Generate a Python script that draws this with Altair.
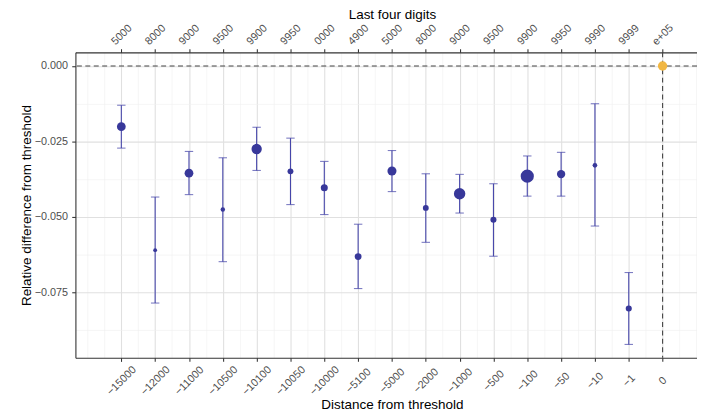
import altair as alt
import pandas as pd

distance_labels = ["−15000", "−12000", "−11000", "−10500", "−10100", "−10050", "−10000",
                   "−5100", "−5000", "−2000", "−1000", "−500", "−100", "−50", "−10", "−1", "0"]
last_digits = ["5000", "8000", "9000", "9500", "9900", "9950", "0000", "4900", "5000",
               "8000", "9000", "9500", "9900", "9950", "9990", "9999", "e+05"]
estimate = [-0.0201, -0.0610, -0.0355, -0.0475, -0.0275, -0.0349, -0.0403, -0.0631, -0.0348,
            -0.0470, -0.0423, -0.0509, -0.0365, -0.0358, -0.0329, -0.0803, 0.0]
ci_low = [-0.0272, -0.0785, -0.0426, -0.0648, -0.0346, -0.0459, -0.0492, -0.0737, -0.0416,
          -0.0584, -0.0487, -0.0630, -0.0431, -0.0431, -0.0530, -0.0922, None]
ci_high = [-0.0130, -0.0434, -0.0283, -0.0304, -0.0203, -0.0239, -0.0316, -0.0524, -0.0280,
           -0.0357, -0.0359, -0.0390, -0.0298, -0.0286, -0.0125, -0.0684, None]
weight = [78, 15, 78, 20, 108, 35, 50, 47, 83, 35, 133, 38, 177, 71, 22, 38, 90]

n = len(distance_labels)
df = pd.DataFrame({
    "pos": list(range(1, n + 1)),
    "distance": distance_labels,
    "digits": last_digits,
    "estimate": estimate,
    "ci_low": ci_low,
    "ci_high": ci_high,
    "weight": weight,
    "group": ["threshold" if d == "0" else "other" for d in distance_labels],
})

FONT = "Liberation Sans"
W, H = 627, 308
EXP_LEFT, EXP_RIGHT = 1.357, 1.017   # right side of the panel is cut off in the reference
x_scale = alt.Scale(domain=[1 - EXP_LEFT, n + EXP_RIGHT], nice=False, zero=False)
y_scale = alt.Scale(domain=[-0.0966, 0.0045], nice=False, zero=False)
TITLE_X = 319.3

def js_array(items):
    return "[" + ",".join("'" + s + "'" for s in items) + "]"

x_major = f"(datum.value >= 1 && datum.value <= {n} && datum.value % 1 === 0)"
y_major = "(abs(datum.value * 40 - round(datum.value * 40)) < 0.001)"

bottom_axis = alt.Axis(
    values=[k * 0.5 for k in range(0, 2 * (n + 1) + 1)],
    labelExpr=f"{x_major} ? {js_array(distance_labels)}[datum.value - 1] : ''",
    gridColor={"condition": {"test": x_major, "value": "#e0e0e0"}, "value": "#f0f0f0"},
    gridWidth={"condition": {"test": x_major, "value": 1.1}, "value": 0.6},
    tickColor={"condition": {"test": x_major, "value": "#333333"}, "value": "transparent"},
    tickSize=3.7, tickWidth=1.07,
    labelAngle=315, labelAlign="center", labelBaseline="middle", labelPadding=19.3,
    labelOverlap=False, labelFlush=False, labelBound=False,
    domain=True, title="Distance from threshold",
    titleX=TITLE_X, titleY=51, titleAlign="center", titleBaseline="alphabetic",
)

top_axis = alt.Axis(
    orient="top",
    values=list(range(1, n + 1)),
    labelExpr=f"{js_array(last_digits)}[datum.value - 1]",
    grid=False, tickColor="#333333", tickSize=3.7, tickWidth=1.07,
    labelAngle=315, labelAlign="center", labelBaseline="middle", labelPadding=14.3,
    labelOverlap=False, labelFlush=False, labelBound=False,
    domain=True, title="Last four digits",
    titleX=TITLE_X, titleY=-34.5, titleAlign="center", titleBaseline="alphabetic",
)

y_axis = alt.Axis(
    values=[round(-0.0125 * k, 4) for k in range(0, 8)],
    labelExpr=f"{y_major} ? replace(format(datum.value, '.3f'), '-', '−') : ''",
    gridColor={"condition": {"test": y_major, "value": "#e0e0e0"}, "value": "#f0f0f0"},
    gridWidth={"condition": {"test": y_major, "value": 1.1}, "value": 0.6},
    tickColor={"condition": {"test": y_major, "value": "#333333"}, "value": "transparent"},
    tickSize=3.7, tickWidth=1.07, labelPadding=4.3,
    labelOverlap=False, labelFlush=False, labelBound=False,
    domain=True, title="Relative difference from threshold",
    titleX=-49.5, titleBaseline="middle",
)

base = alt.Chart(df)
BLUE_LINE = "#4646aa"

errbars = base.mark_rule(color=BLUE_LINE, strokeWidth=1.1).encode(
    x=alt.X("pos:Q", scale=x_scale, axis=bottom_axis),
    y=alt.Y("ci_low:Q", scale=y_scale, axis=y_axis),
    y2="ci_high:Q",
)

caps = base.transform_fold(["ci_low", "ci_high"], as_=["bound", "value"]).mark_tick(
    orient="horizontal", size=8.5, thickness=1.1, color=BLUE_LINE
).encode(
    x=alt.X("pos:Q", scale=x_scale, axis=None),
    y=alt.Y("value:Q", scale=y_scale, axis=None),
)

thr = base.transform_filter("datum.distance === '0'")
hline = thr.mark_rule(color="#444444", strokeWidth=1.1, strokeDash=[5, 3.5]).encode(
    y=alt.Y("estimate:Q", scale=y_scale, axis=None)
)
vline = thr.mark_rule(color="#444444", strokeWidth=1.1, strokeDash=[5, 3.5]).encode(
    x=alt.X("pos:Q", scale=x_scale, axis=None)
)

points = base.mark_circle(opacity=1).encode(
    x=alt.X("pos:Q", scale=x_scale, axis=top_axis),
    y=alt.Y("estimate:Q", scale=y_scale, axis=None),
    size=alt.Size("weight:Q", scale=alt.Scale(type="linear", domain=[0, 180], range=[0, 180]), legend=None),
    color=alt.Color("group:N", scale=alt.Scale(domain=["other", "threshold"], range=["#38389a", "#f1b744"]), legend=None),
)

chart = alt.layer(errbars, caps, hline, vline, points).resolve_axis(
    x="independent", y="independent"
).properties(
    width=W, height=H,
    padding={"left": 68, "top": 43, "right": 0, "bottom": 52},
    autosize=alt.AutoSizeParams(type="none"),
).configure_view(
    stroke="transparent"
).configure_axis(
    labelFont=FONT, titleFont=FONT, labelFontSize=10.9, labelColor="#4d4d4d",
    titleFontSize=13.6, titleColor="#000000", titleFontWeight="normal",
    domainColor="#333333", domainWidth=1.1,
)

chart.save("out.html", embed_options={
    "renderer": "svg", "actions": False,
    "defaultStyle": ".vega-embed, .vega-embed svg { display: block; }",
})
